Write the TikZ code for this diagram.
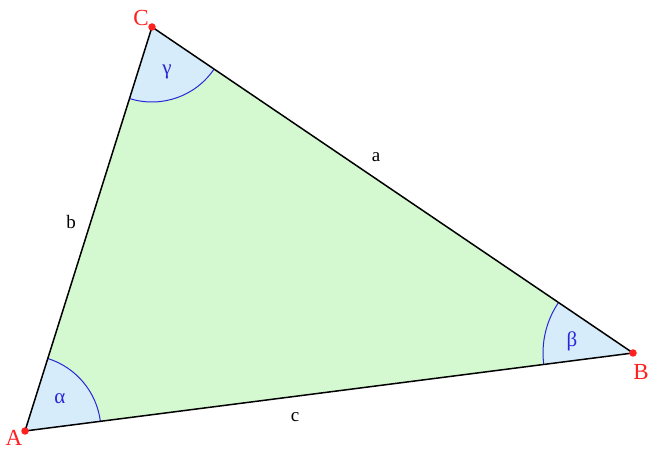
\documentclass[tikz,border=0pt]{standalone}
\usepackage{fontspec}
\setmainfont{Liberation Serif}
\usetikzlibrary{angles}
\definecolor{trigreen}{HTML}{D4F8D0}
\definecolor{angblue}{HTML}{D6ECFA}
\definecolor{vred}{HTML}{FF2020}
\definecolor{angline}{HTML}{2828D8}
\tikzset{
  vlabel/.style={text=vred, font=\fontsize{23}{23}\selectfont, inner sep=0pt},
  slabel/.style={text=black, font=\fontsize{19}{19}\selectfont, inner sep=0pt},
  glabel/.style={text=angline, font=\fontsize{21}{21}\selectfont, inner sep=0pt},
  angsec/.style={draw=angline, fill=angblue, line width=1pt},
  edge/.style={draw=black, line width=1.5pt},
  vdot/.style={circle, fill=vred, inner sep=0pt, minimum size=7.5pt}
}
\begin{document}
\begin{tikzpicture}[x=1pt,y=1pt]
\useasboundingbox (0,0) rectangle (660,457);
\coordinate (A) at (25,26);
\coordinate (B) at (633,104);
\coordinate (C) at (152,430);
\fill[trigreen] (A) -- (B) -- (C) -- cycle;
\pic[angsec, angle radius=76pt] {angle = B--A--C};
\pic[angsec, angle radius=90pt] {angle = C--B--A};
\pic[angsec, angle radius=75pt] {angle = A--C--B};
\draw[edge, line join=miter] (A) -- (B) -- (C) -- cycle;
\node[vdot] (dA) at (A) {};
\node[vdot] (dB) at (B) {};
\node[vdot] (dC) at (C) {};
\node[vlabel] (lA) at (14,19) {A};
\node[vlabel] (lB) at (641,85) {B};
\node[vlabel] (lC) at (141,439) {C};
\node[slabel] (la) at (376,300) {a};
\node[slabel] (lb) at (71,235) {b};
\node[slabel] (lc) at (295,40) {c};
\node[glabel] (ga) at (60,58) {α};
\node[glabel] (gb) at (572,116) {β};
\node[glabel] (gc) at (167,385) {γ};
\end{tikzpicture}
\end{document}
